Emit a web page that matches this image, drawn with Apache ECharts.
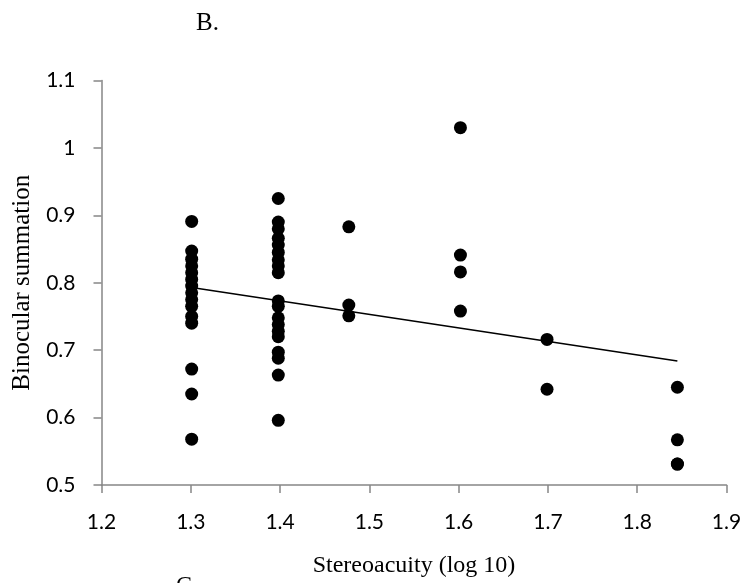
<!DOCTYPE html>
<html>
<head>
<meta charset="utf-8">
<script src="https://cdn.jsdelivr.net/npm/echarts@6/dist/echarts.min.js"></script>
<style>
  html, body { margin: 0; padding: 0; background: #fff; }
  #chart { width: 746px; height: 583px; }
</style>
</head>
<body>
<div id="chart"></div>
<script>
// Stereoacuity (log10 arcsec) for each observer
const stereoacuity = [
  1.301, 1.301, 1.301, 1.301, 1.301, 1.301, 1.301, 1.301, 1.301, 1.301, 1.301, 1.301, 1.301, 1.301, 1.301,
  1.398, 1.398, 1.398, 1.398, 1.398, 1.398, 1.398, 1.398, 1.398, 1.398, 1.398, 1.398, 1.398, 1.398, 1.398, 1.398, 1.398, 1.398, 1.398,
  1.477, 1.477, 1.477,
  1.602, 1.602, 1.602, 1.602,
  1.699, 1.699,
  1.845, 1.845, 1.845, 1.845
];

// Binocular summation ratio for the same observers
const summation = [
  0.891, 0.847, 0.835, 0.825, 0.815, 0.805, 0.795, 0.785, 0.775, 0.765, 0.750, 0.740, 0.672, 0.635, 0.568,
  0.925, 0.890, 0.880, 0.866, 0.856, 0.845, 0.834, 0.825, 0.815, 0.773, 0.765, 0.748, 0.738, 0.728, 0.720, 0.697, 0.688, 0.663, 0.596,
  0.883, 0.767, 0.751,
  1.030, 0.841, 0.816, 0.758,
  0.716, 0.642,
  0.645, 0.567, 0.531, 0.531
];

// Linear fit endpoints
const trendX = [1.301, 1.845];
const trendY = [0.793, 0.684];

const xTicks = { min: 1.2, max: 1.9, interval: 0.1 };
const yTicks = { min: 0.5, max: 1.1, interval: 0.1 };

const points = stereoacuity.map((x, i) => [x, summation[i]]);
const trend = trendX.map((x, i) => [x, trendY[i]]);

const axisGray = '#868686';
const labelFont = 'Lato, "Open Sans", sans-serif';
const serifFont = '"Liberation Serif", "DejaVu Serif", serif';

const chart = echarts.init(document.getElementById('chart'), null, { renderer: 'canvas' });

chart.setOption({
  animation: false,
  backgroundColor: '#ffffff',
  title: [
    {
      text: 'B.',
      left: 191, top: 6,
      textStyle: { fontFamily: serifFont, fontSize: 25, fontWeight: 'normal', color: '#000' }
    },
    {
      text: 'C',
      left: 171, top: 569,
      textStyle: { fontFamily: serifFont, fontSize: 24, fontWeight: 'normal', color: '#000' }
    }
  ],
  grid: { left: 101.5, right: 19.5, top: 80.5, bottom: 98, containLabel: false },
  xAxis: {
    type: 'value',
    min: xTicks.min, max: xTicks.max, interval: xTicks.interval,
    name: 'Stereoacuity (log 10)',
    nameLocation: 'middle',
    nameGap: 69,
    nameTextStyle: { fontFamily: serifFont, fontSize: 24, color: '#000' },
    axisLine: { show: true, onZero: false, lineStyle: { color: axisGray, width: 1.5 } },
    axisTick: { show: true, inside: false, length: 8, lineStyle: { color: axisGray, width: 1.5 } },
    axisLabel: {
      margin: 27,
      fontFamily: labelFont, fontSize: 21, color: '#000',
      formatter: v => v.toFixed(1)
    },
    splitLine: { show: false }
  },
  yAxis: {
    type: 'value',
    min: yTicks.min, max: yTicks.max, interval: yTicks.interval,
    name: 'Binocular summation',
    nameLocation: 'middle',
    nameGap: 65,
    nameRotate: 90,
    nameTextStyle: { fontFamily: serifFont, fontSize: 25, color: '#000' },
    axisLine: { show: true, onZero: false, lineStyle: { color: axisGray, width: 1.5 } },
    axisTick: { show: true, inside: false, length: 8, lineStyle: { color: axisGray, width: 1.5 } },
    axisLabel: {
      margin: 26,
      fontFamily: labelFont, fontSize: 21, color: '#000',
      formatter: v => {
        const r = Math.round(v * 10) / 10;
        return r === 1 ? '1' : r.toFixed(1);
      }
    },
    splitLine: { show: false }
  },
  series: [
    {
      type: 'scatter',
      data: points,
      symbol: 'circle',
      symbolSize: 13,
      itemStyle: { color: '#000', opacity: 1 },
      z: 3
    },
    {
      type: 'line',
      data: trend,
      symbol: 'none',
      lineStyle: { color: '#000', width: 1.6 },
      z: 2
    }
  ]
});
</script>
</body>
</html>
